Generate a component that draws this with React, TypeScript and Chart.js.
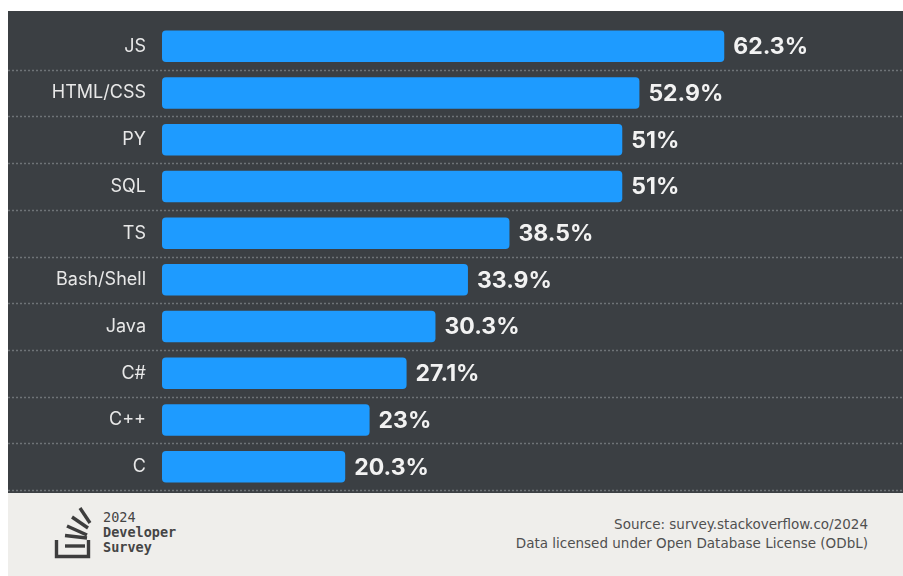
import React, { useEffect, useRef } from "react";
import { Chart, registerables } from "chart.js";

Chart.register(...registerables);

const categories = ["JS", "HTML/CSS", "PY", "SQL", "TS", "Bash/Shell", "Java", "C#", "C++", "C"];
const values = [62.3, 52.9, 51, 51, 38.5, 33.9, 30.3, 27.1, 23, 20.3];
const valueLabels = ["62.3%", "52.9%", "51%", "51%", "38.5%", "33.9%", "30.3%", "27.1%", "23%", "20.3%"];
const xMax = 80;

const DARK = "#3b3f43";
const FOOT = "#efeeeb";

const gridPlugin = {
  id: "rowLines",
  beforeDatasetsDraw(chart: any) {
    const { ctx } = chart;
    const y = chart.scales.y;
    const step = y.getPixelForValue(1) - y.getPixelForValue(0);
    ctx.save();
    ctx.strokeStyle = "rgba(120,124,128,0.85)";
    ctx.lineWidth = 1.5;
    ctx.setLineDash([2, 2]);
    for (let i = 0; i < categories.length; i++) {
      const py = Math.round(y.getPixelForValue(i) + step / 2) + 0.5;
      ctx.beginPath();
      ctx.moveTo(0, py);
      ctx.lineTo(chart.width, py);
      ctx.stroke();
    }
    ctx.restore();
  },
};

const valuePlugin = {
  id: "valueLabels",
  afterDatasetsDraw(chart: any) {
    const { ctx } = chart;
    const meta = chart.getDatasetMeta(0);
    ctx.save();
    ctx.fillStyle = "#f2f2f2";
    ctx.font = "bold 23px Inter, 'Liberation Sans', sans-serif";
    ctx.textAlign = "left";
    ctx.textBaseline = "middle";
    meta.data.forEach((el: any, i: number) => {
      ctx.fillText(valueLabels[i], el.x + 9, el.y + 1);
    });
    ctx.restore();
  },
};

function Logo() {
  const c = "#3d3d3d";
  const w = 3.4;
  return (
    <svg width="50" height="60" viewBox="0 0 50 60" style={{ position: "absolute", left: 44, top: 10 }}>
      <path d="M4.5 37 V53.5 H36.5 V37" fill="none" stroke={c} strokeWidth={w} />
      <line x1="13" y1="43" x2="33" y2="43" stroke={c} strokeWidth={w} />
      <line x1="13" y1="32.5" x2="35" y2="35" stroke={c} strokeWidth={w} />
      <line x1="15" y1="23" x2="35" y2="32" stroke={c} strokeWidth={w} />
      <line x1="20" y1="14" x2="36" y2="25" stroke={c} strokeWidth={w} />
      <line x1="28" y1="5" x2="38" y2="20" stroke={c} strokeWidth={w} />
    </svg>
  );
}

export default function App() {
  const ref = useRef<HTMLCanvasElement>(null);
  useEffect(() => {
    if (!ref.current) return;
    const chart = new Chart(ref.current, {
      type: "bar",
      data: {
        labels: categories,
        datasets: [
          {
            data: values,
            backgroundColor: "#1e9bff",
            borderRadius: 4,
            borderSkipped: false,
            categoryPercentage: 1,
            barPercentage: 0.675,
          },
        ],
      },
      options: {
        indexAxis: "y",
        animation: false,
        responsive: true,
        maintainAspectRatio: false,
        layout: { padding: { left: 0, right: 19, top: 12, bottom: 3 } },
        plugins: { legend: { display: false }, tooltip: { enabled: false } },
        scales: {
          x: { display: false, min: 0, max: xMax },
          y: {
            afterFit: (s: any) => {
              s.width = 154;
              s.paddingTop = 0;
              s.paddingBottom = 0;
            },
            border: { display: false },
            grid: { display: false, drawTicks: false },
            ticks: {
              color: "#e8e8e8",
              padding: 16,
              font: { family: "Inter, 'Liberation Sans', sans-serif", size: 18 },
            },
          },
        },
      },
      plugins: [gridPlugin, valuePlugin],
    });
    return () => chart.destroy();
  }, []);

  return (
    <div style={{ position: "absolute", left: 8, top: 11, width: 895, height: 565 }}>
      <div style={{ position: "relative", width: 895, height: 482, background: DARK }}>
        <canvas ref={ref} />
      </div>
      <div style={{ position: "relative", width: 895, height: 83, background: FOOT }}>
        <Logo />
        <div
          style={{
            position: "absolute",
            left: 95,
            top: 17,
            fontFamily: "'DejaVu Sans Mono', monospace",
            fontSize: 13.5,
            lineHeight: "15px",
            color: "#454545",
          }}
        >
          <div>2024</div>
          <div style={{ fontWeight: "bold" }}>Developer</div>
          <div style={{ fontWeight: "bold" }}>Survey</div>
        </div>
        <div
          style={{
            position: "absolute",
            right: 35,
            top: 22,
            textAlign: "right",
            fontFamily: "'DejaVu Sans', sans-serif",
            fontSize: 13.5,
            lineHeight: "19px",
            color: "#505050",
          }}
        >
          <div>Source: survey.stackoverflow.co/2024</div>
          <div>Data licensed under Open Database License (ODbL)</div>
        </div>
      </div>
    </div>
  );
}
